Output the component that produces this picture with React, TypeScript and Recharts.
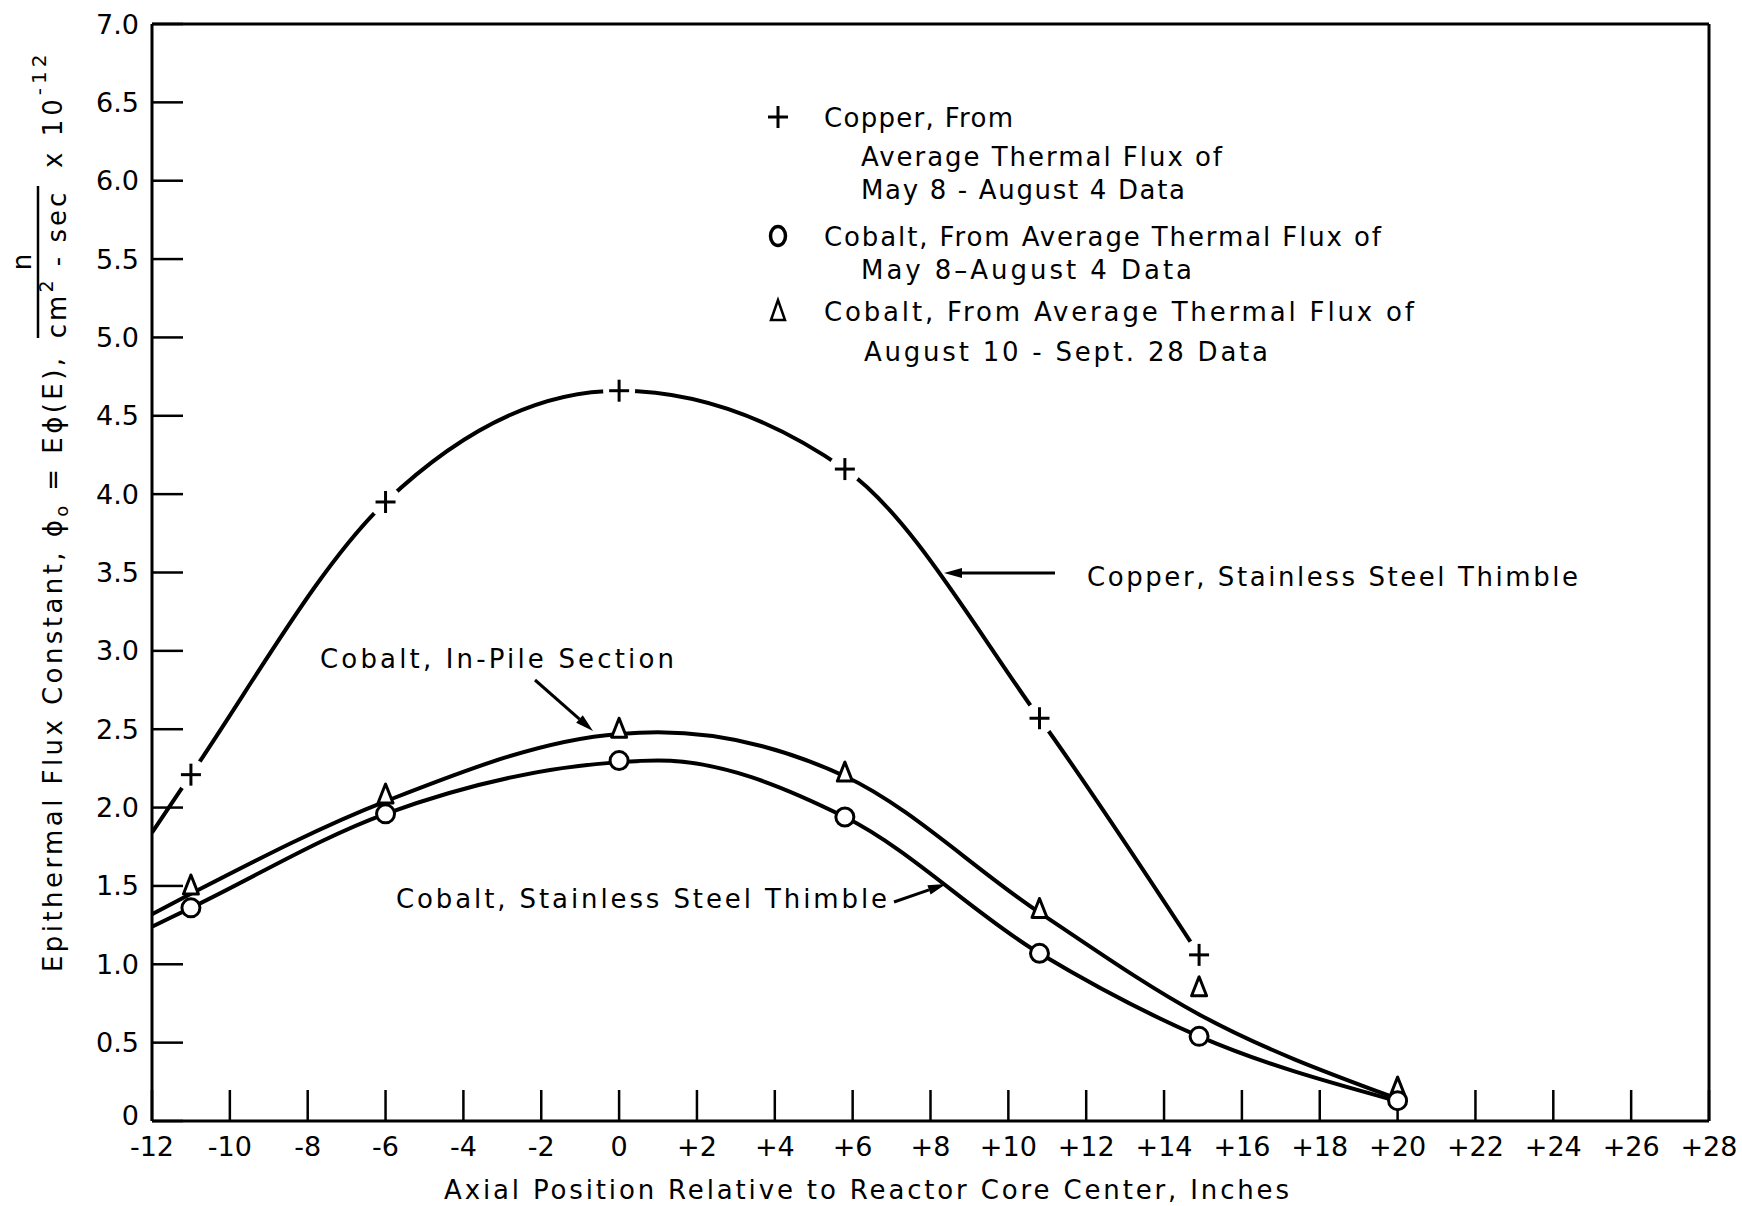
import { ComposedChart, Line, Scatter, XAxis, YAxis } from "recharts";

const FONT = "'DejaVu Sans', sans-serif";
const W = 1742;
const H = 1206;

// axis ticks
const xTicks = [-12, -10, -8, -6, -4, -2, 0, 2, 4, 6, 8, 10, 12, 14, 16, 18, 20, 22, 24, 26, 28];
const yTicks = [0, 0.5, 1, 1.5, 2, 2.5, 3, 3.5, 4, 4.5, 5, 5.5, 6, 6.5, 7];

// measured points (axial position, inches)
const copperX = [-11, -6, 0, 5.8, 10.8, 14.9];
const copperY = [2.21, 3.95, 4.66, 4.16, 2.57, 1.06];
const cobaltX = [-11, -6, 0, 5.8, 10.8, 14.9, 20];
const cobaltMayY = [1.36, 1.96, 2.3, 1.94, 1.07, 0.54, 0.13];
const cobaltAugY = [1.5, 2.08, 2.5, 2.22, 1.35, 0.85, 0.21];

// faired curves
const copperCurveX = [-12, -11, -6, 0, 5.8, 10.8, 14.9];
const copperCurveY = [1.84, 2.21, 3.95, 4.66, 4.16, 2.57, 1.06];
const cobaltCurveX = [-12, -11, -6, 0, 1, 5.8, 10.8, 14.9, 19.8];
const inPileCurveY = [1.32, 1.45, 2.04, 2.47, 2.48, 2.2, 1.33, 0.68, 0.16];
const thimbleCurveY = [1.24, 1.36, 1.96, 2.29, 2.3, 1.94, 1.07, 0.54, 0.14];

const zip = (xs: number[], ys: number[]) => xs.map((x, i) => ({ x, y: ys[i] }));

const copperPts = zip(copperX, copperY);
const circlePts = zip(cobaltX, cobaltMayY);
const trianglePts = zip(cobaltX, cobaltAugY);
const copperCurve = zip(copperCurveX, copperCurveY);
const inPileCurve = zip(cobaltCurveX, inPileCurveY);
const thimbleCurve = zip(cobaltCurveX, thimbleCurveY);

const fmtX = (v: number) => (v > 0 ? `+${v}` : `${v}`);
const fmtY = (v: number) => (v === 0 ? "0" : v.toFixed(1));

// y tick label; the zero sits a little above the corner
function YTick({ x, y, payload }: any) {
  const lift = payload.value === 0 ? -6 : 0;
  return (
    <text x={x} y={y + lift} textAnchor="end" dominantBaseline="central" fontSize={27} fontFamily={FONT} fill="#000">
      {fmtY(payload.value)}
    </text>
  );
}

function PlusMark({ cx, cy }: any) {
  return (
    <g>
      <circle cx={cx} cy={cy} r={16} fill="#fff" />
      <line x1={cx - 10} y1={cy} x2={cx + 10} y2={cy} stroke="#000" strokeWidth={3} />
      <line x1={cx} y1={cy - 11} x2={cx} y2={cy + 11} stroke="#000" strokeWidth={3} />
    </g>
  );
}

function CircleMark({ cx, cy }: any) {
  return <circle cx={cx} cy={cy} r={9} fill="#fff" stroke="#000" strokeWidth={3} />;
}

function TriangleMark({ cx, cy }: any) {
  const pts = `${cx},${cy - 11} ${cx - 7.5},${cy + 8} ${cx + 7.5},${cy + 8}`;
  return <polygon points={pts} fill="#fff" stroke="#000" strokeWidth={3} strokeLinejoin="round" />;
}

function Arrow({ x1, y1, x2, y2 }: { x1: number; y1: number; x2: number; y2: number }) {
  const a = Math.atan2(y2 - y1, x2 - x1);
  const len = 18;
  const half = 5;
  const bx = x2 - len * Math.cos(a);
  const by = y2 - len * Math.sin(a);
  const px = -Math.sin(a) * half;
  const py = Math.cos(a) * half;
  return (
    <g>
      <line x1={x1} y1={y1} x2={bx} y2={by} stroke="#000" strokeWidth={3} />
      <polygon points={`${x2},${y2} ${bx + px},${by + py} ${bx - px},${by - py}`} fill="#000" />
    </g>
  );
}

function Notes() {
  const t = { fontFamily: FONT, fontSize: 26, fill: "#000" } as const;
  return (
    <svg width={W} height={H} style={{ position: "absolute", left: 0, top: 0, pointerEvents: "none" }}>
      {/* legend */}
      <PlusMark cx={778} cy={117} />
      <text {...t} x={824} y={127} textLength={189} lengthAdjust="spacing">Copper, From</text>
      <text {...t} x={861} y={166} textLength={361} lengthAdjust="spacing">Average Thermal Flux of</text>
      <text {...t} x={861} y={199} textLength={324} lengthAdjust="spacing">May 8 - August 4 Data</text>
      <ellipse cx={778} cy={236} rx={7.5} ry={9.5} fill="none" stroke="#000" strokeWidth={3.5} />
      <text {...t} x={824} y={246} textLength={557} lengthAdjust="spacing">Cobalt, From Average Thermal Flux of</text>
      <text {...t} x={861} y={279} textLength={331} lengthAdjust="spacing">May 8–August 4 Data</text>
      <polygon points="778,300 771,320 785,320" fill="none" stroke="#000" strokeWidth={2.5} />
      <text {...t} x={824} y={321} textLength={590} lengthAdjust="spacing">Cobalt, From Average Thermal Flux of</text>
      <text {...t} x={864} y={361} textLength={404} lengthAdjust="spacing">August 10 - Sept. 28 Data</text>

      {/* curve labels */}
      <text {...t} x={1087} y={586} textLength={491} lengthAdjust="spacing">Copper, Stainless Steel Thimble</text>
      <Arrow x1={1055} y1={573} x2={944} y2={573} />
      <text {...t} x={320} y={668} textLength={354} lengthAdjust="spacing">Cobalt, In-Pile Section</text>
      <Arrow x1={535} y1={680} x2={593} y2={731} />
      <text {...t} x={396} y={908} textLength={491} lengthAdjust="spacing">Cobalt, Stainless Steel Thimble</text>
      <Arrow x1={894} y1={902} x2={946} y2={884} />

      {/* x axis title */}
      <text {...t} x={444} y={1199} textLength={845} lengthAdjust="spacing">
        Axial Position Relative to Reactor Core Center, Inches
      </text>

      {/* y axis title */}
      <g transform="rotate(-90)" fontFamily={FONT} fill="#000">
        <text x={-972} y={62} fontSize={26} textLength={614} lengthAdjust="spacing">
          Epithermal Flux Constant, ϕ<tspan fontSize={18} dy={6}>o</tspan>
          <tspan dy={-6}> = Eϕ(E),</tspan>
        </text>
        <text x={-262} y={31} fontSize={26} textAnchor="middle">n</text>
        <line x1={-338} y1={38} x2={-186} y2={38} stroke="#000" strokeWidth={2.5} />
        <text x={-264} y={66} fontSize={26} textAnchor="middle" letterSpacing={3}>
          cm<tspan fontSize={19} dy={-13}>2</tspan>
          <tspan dy={13}> - sec</tspan>
        </text>
        <text x={-168} y={62} fontSize={26} letterSpacing={4}>
          x 10<tspan fontSize={20} dy={-16}>-12</tspan>
        </text>
      </g>
    </svg>
  );
}

export default function App() {
  const axisLine = { stroke: "#000", strokeWidth: 3 };
  const tickLine = { stroke: "#000", strokeWidth: 2.5 };
  const tickText = { fill: "#000", fontSize: 27, fontFamily: FONT };
  return (
    <div style={{ position: "absolute", left: 0, top: 0, width: W, height: H, background: "#fff" }}>
      <ComposedChart width={W} height={H} margin={{ top: 0, right: 0, bottom: 0, left: 0 }}>
        <XAxis
          xAxisId="b"
          type="number"
          dataKey="x"
          domain={[-12, 28]}
          ticks={xTicks}
          interval={0}
          allowDataOverflow
          tickFormatter={fmtX}
          height={85}
          tickSize={-31}
          tickMargin={47}
          axisLine={axisLine}
          tickLine={tickLine}
          tick={tickText}
        />
        <XAxis
          xAxisId="t"
          orientation="top"
          type="number"
          dataKey="x"
          domain={[-12, 28]}
          ticks={xTicks}
          interval={0}
          allowDataOverflow
          height={24}
          tickSize={-31}
          axisLine={axisLine}
          tickLine={tickLine}
          tick={false}
        />
        <YAxis
          yAxisId="l"
          type="number"
          dataKey="y"
          domain={[0, 7]}
          ticks={yTicks}
          interval={0}
          allowDataOverflow
          width={152}
          tickSize={-31}
          tickMargin={44}
          axisLine={axisLine}
          tickLine={tickLine}
          tick={<YTick />}
        />
        <YAxis
          yAxisId="r"
          orientation="right"
          type="number"
          domain={[0, 7]}
          ticks={yTicks}
          interval={0}
          allowDataOverflow
          width={33}
          tickSize={-31}
          axisLine={axisLine}
          tickLine={tickLine}
          tick={false}
        />
        <Line xAxisId="b" yAxisId="l" data={copperCurve} dataKey="y" type="monotone" stroke="#000" strokeWidth={4} dot={false} isAnimationActive={false} />
        <Line xAxisId="b" yAxisId="l" data={inPileCurve} dataKey="y" type="monotone" stroke="#000" strokeWidth={4} dot={false} isAnimationActive={false} />
        <Line xAxisId="b" yAxisId="l" data={thimbleCurve} dataKey="y" type="monotone" stroke="#000" strokeWidth={4} dot={false} isAnimationActive={false} />
        <Scatter xAxisId="b" yAxisId="l" data={copperPts} dataKey="y" shape={(p: any) => <PlusMark {...p} />} isAnimationActive={false} />
        <Scatter xAxisId="b" yAxisId="l" data={trianglePts} dataKey="y" shape={(p: any) => <TriangleMark {...p} />} isAnimationActive={false} />
        <Scatter xAxisId="b" yAxisId="l" data={circlePts} dataKey="y" shape={(p: any) => <CircleMark {...p} />} isAnimationActive={false} />
      </ComposedChart>
      <Notes />
    </div>
  );
}
